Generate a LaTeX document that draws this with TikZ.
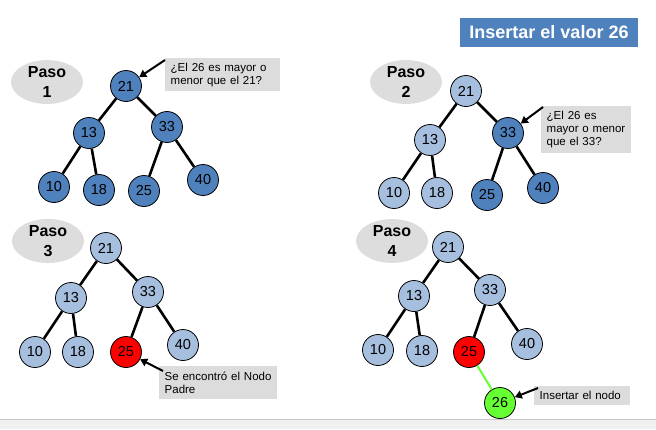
\documentclass[tikz,border=0pt]{standalone}
\usepackage{fontspec}
\setmainfont{Liberation Sans}
\usetikzlibrary{arrows.meta,shapes.geometric}
\definecolor{dkblue}{HTML}{4F81BD}
\definecolor{ltblue}{HTML}{A7BFDE}
\definecolor{callgray}{HTML}{DCDCDC}
\definecolor{pasogray}{HTML}{DDDDDD}
\definecolor{nodegreen}{HTML}{66FF33}
\definecolor{bargray}{HTML}{F0F0F0}
\definecolor{barline}{HTML}{C8C8C8}
\tikzset{
  nd/.style={circle, draw=black, line width=0.8pt, minimum size=31pt, inner sep=0pt, font=\fontsize{14.5}{14.5}\selectfont},
  dk/.style={nd, fill=dkblue},
  lt/.style={nd, fill=ltblue},
  rd/.style={nd, fill=red},
  gr/.style={nd, fill=nodegreen},
  edge/.style={line width=2.6pt, black},
  gedge/.style={line width=2pt, nodegreen},
  paso/.style={ellipse, fill=pasogray, minimum width=72pt, minimum height=43pt, inner sep=0pt, align=center, font=\fontsize{16}{20}\selectfont\bfseries},
  callout/.style={rectangle, fill=callgray, inner xsep=5.5pt, inner ysep=3pt, align=left, anchor=north west, font=\fontsize{11.5}{13}\selectfont},
  arr/.style={line width=2pt, black, -{Triangle[length=7pt,width=8pt]}},
}
\begin{document}
\begin{tikzpicture}[x=1pt,y=-1pt]
\useasboundingbox (0,0) rectangle (656,429);
% bottom bar
\fill[bargray] (0,419) rectangle (656,429);
\draw[barline, line width=1pt] (0,419) -- (656,419);
% title
\node[rectangle, fill=dkblue, text=white, font=\fontsize{18}{18}\selectfont\bfseries, minimum width=178pt, minimum height=29pt, inner sep=0pt] (title) at (549,32.5) {Insertar el valor 26};

% ---------- Panel 1 ----------
\node[paso] (paso1) at (47,82) {Paso\\1};
\node[dk] (p1a) at (126,86) {21};
\node[dk] (p1b) at (89,133) {13};
\node[dk] (p1c) at (167,127) {33};
\node[dk] (p1d) at (54,187) {10};
\node[dk] (p1e) at (99,190) {18};
\node[dk] (p1f) at (144,191) {25};
\node[dk] (p1g) at (203,180) {40};
\draw[edge] (p1a) -- (p1b);
\draw[edge] (p1a) -- (p1c);
\draw[edge] (p1b) -- (p1d);
\draw[edge] (p1b) -- (p1e);
\draw[edge] (p1c) -- (p1f);
\draw[edge] (p1c) -- (p1g);
\node[callout, text width=104pt, minimum height=33pt] (c1) at (165,58) {¿El 26 es mayor o\\menor que el 21?};
\coordinate (c1a) at (165,60);
\draw[arr] (c1a) -- (p1a);

% ---------- Panel 2 ----------
\node[paso] (paso2) at (406,82) {Paso\\2};
\node[lt] (p2a) at (466,91) {21};
\node[lt] (p2b) at (430,140) {13};
\node[dk] (p2c) at (508,133) {33};
\node[lt] (p2d) at (394,193) {10};
\node[lt] (p2e) at (437,193) {18};
\node[dk] (p2f) at (487,195) {25};
\node[dk] (p2g) at (543,188) {40};
\draw[edge] (p2a) -- (p2b);
\draw[edge] (p2a) -- (p2c);
\draw[edge] (p2b) -- (p2d);
\draw[edge] (p2b) -- (p2e);
\draw[edge] (p2c) -- (p2f);
\draw[edge] (p2c) -- (p2g);
\node[callout, text width=79pt, minimum height=47pt] (c2) at (541,106) {¿El 26 es\\mayor o menor\\que el 33?};
\coordinate (c2a) at (543,107);
\draw[arr] (c2a) -- (p2c);

% ---------- Panel 3 ----------
\node[paso] (paso3) at (48,241) {Paso\\3};
\node[lt] (p3a) at (106,248) {21};
\node[lt] (p3b) at (71,298) {13};
\node[lt] (p3c) at (148,292) {33};
\node[lt] (p3d) at (35,352) {10};
\node[lt] (p3e) at (78,352) {18};
\node[rd] (p3f) at (126,352) {25};
\node[lt] (p3g) at (183,345) {40};
\draw[edge] (p3a) -- (p3b);
\draw[edge] (p3a) -- (p3c);
\draw[edge] (p3b) -- (p3d);
\draw[edge] (p3b) -- (p3e);
\draw[edge] (p3c) -- (p3f);
\draw[edge] (p3c) -- (p3g);
\node[callout, text width=107pt, minimum height=33pt] (c3) at (159,366) {Se encontró el Nodo\\Padre};
\coordinate (c3a) at (163,371);
\draw[arr] (c3a) -- (p3f);

% ---------- Panel 4 ----------
\node[paso] (paso4) at (392,241) {Paso\\4};
\node[lt] (p4a) at (448,247) {21};
\node[lt] (p4b) at (414,296) {13};
\node[lt] (p4c) at (490,290) {33};
\node[lt] (p4d) at (378,350) {10};
\node[lt] (p4e) at (422,351) {18};
\node[rd] (p4f) at (469,352) {25};
\node[lt] (p4g) at (527,344) {40};
\draw[edge] (p4a) -- (p4b);
\draw[edge] (p4a) -- (p4c);
\draw[edge] (p4b) -- (p4d);
\draw[edge] (p4b) -- (p4e);
\draw[edge] (p4c) -- (p4f);
\draw[edge] (p4c) -- (p4g);
\node[gr] (p4h) at (500,403) {26};
\draw[gedge] (p4f) -- (p4h);
\node[callout, text width=85pt, minimum height=19pt] (c4) at (534,386) {Insertar el nodo};
\coordinate (c4a) at (538,388);
\draw[arr] (c4a) -- (p4h);
\end{tikzpicture}
\end{document}
